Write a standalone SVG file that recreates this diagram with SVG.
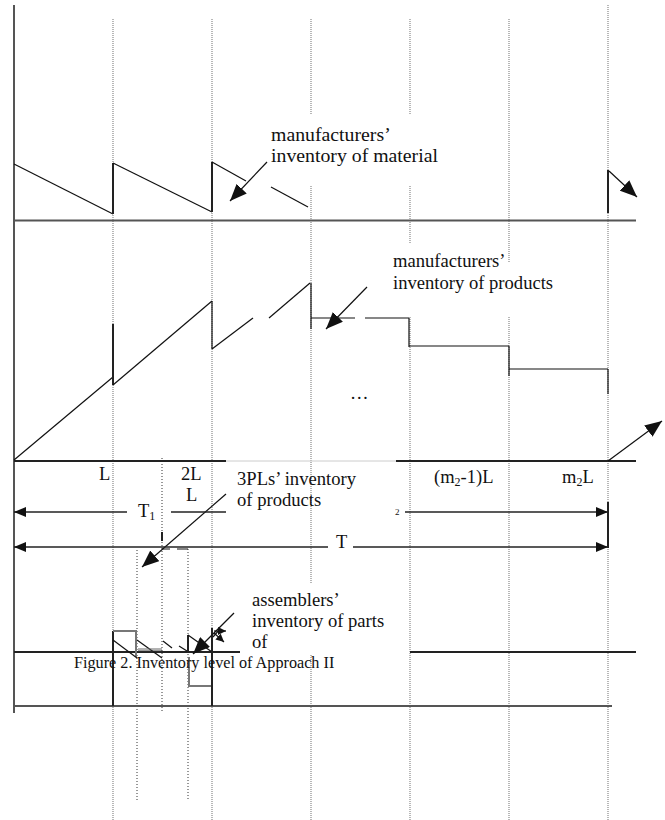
<svg xmlns="http://www.w3.org/2000/svg" width="665" height="820" viewBox="0 0 665 820" font-family="'Liberation Serif', 'Times New Roman', serif">
<style>
text{font-family:"Liberation Serif","Times New Roman",serif;fill:#111}
.lbl{font-family:"Liberation Serif","Times New Roman",serif;font-size:18.6px}
.lbl2{font-family:"Liberation Serif","Times New Roman",serif;font-size:19.8px}
.ax{font-family:"Liberation Serif","Times New Roman",serif;font-size:18.5px}
.cap{font-family:"Liberation Serif","Times New Roman",serif;font-size:16.2px}
.grid{stroke:#9a9a9a;stroke-width:1.4;stroke-dasharray:1 1;fill:none}
.grid2{stroke:#333;stroke-width:1;stroke-dasharray:1 2;fill:none}
.axis{stroke:#555;stroke-width:2;fill:none}
.curve{stroke:#111;stroke-width:1.2;fill:none}
.thick{stroke:#222;stroke-width:2;fill:none}
.grey{stroke:#777;stroke-width:2;fill:none}
.ptr{stroke:#111;stroke-width:1.2;fill:none;marker-end:url(#big)}
.dim{stroke:#222;stroke-width:1.3;fill:none}
</style>
<defs>
<marker id="big" markerUnits="userSpaceOnUse" markerWidth="18" markerHeight="14" refX="17" refY="7" orient="auto"><path d="M0,0 L17,7 L0,14 z" fill="#111"/></marker>
<marker id="sm" markerUnits="userSpaceOnUse" markerWidth="13" markerHeight="10" refX="12" refY="5" orient="auto"><path d="M0,0 L12,5 L0,10 z" fill="#111"/></marker>
<marker id="tiny" markerUnits="userSpaceOnUse" markerWidth="9" markerHeight="8" refX="8" refY="4" orient="auto"><path d="M0,0 L8,4 L0,8 z" fill="#111"/></marker>
</defs>
<rect width="665" height="820" fill="#fff"/>

<g id="grid">
<line class="grid" x1="113" y1="19" x2="113" y2="820"/>
<line class="grid" x1="212" y1="19" x2="212" y2="820"/>
<line class="grid" x1="311" y1="19" x2="311" y2="115"/>
<line class="grid" x1="311" y1="186" x2="311" y2="583"/>
<line class="grid" x1="311" y1="655" x2="311" y2="820"/>
<line class="grid" x1="410" y1="19" x2="410" y2="115"/>
<line class="grid" x1="410" y1="186" x2="410" y2="243"/>
<line class="grid" x1="410" y1="317" x2="410" y2="820"/>
<line class="grid" x1="509" y1="19" x2="509" y2="262"/>
<line class="grid" x1="509" y1="317" x2="509" y2="820"/>
<line class="grid" x1="608" y1="5" x2="608" y2="820"/>
<line class="grid2" x1="137" y1="550" x2="137" y2="800"/>
<line class="grid2" x1="162" y1="458" x2="162" y2="712"/>
<line class="grid2" x1="188" y1="549" x2="188" y2="800"/>
</g>

<g id="axes">
<line class="axis" x1="14" y1="5" x2="14" y2="713"/>
<line class="axis" x1="14" y1="220.5" x2="636" y2="220.5"/>
<line class="thick" x1="14" y1="461" x2="226" y2="461"/>
<line stroke="#ccc" stroke-width="1" x1="226" y1="461" x2="396" y2="461"/>
<line class="thick" x1="396" y1="461" x2="636" y2="461"/>
<line class="thick" x1="14" y1="652" x2="240" y2="652"/>
<line class="thick" x1="410" y1="652" x2="636" y2="652"/>
<line class="axis" x1="14" y1="706" x2="612" y2="706"/>
</g>

<g id="material-inventory">
<path class="curve" d="M14,164 L113,214"/>
<line class="thick" x1="113" y1="163" x2="113" y2="214"/>
<path class="curve" d="M113,163 L212,212"/>
<line class="thick" x1="212" y1="162" x2="212" y2="212"/>
<path class="curve" d="M212,162 L246,181"/>
<path class="curve" d="M271,187 L308,207"/>
<line class="thick" x1="608" y1="170" x2="608" y2="213"/>
</g>

<g id="material-label">
<text class="lbl2" x="271" y="141">manufacturers’</text>
<text class="lbl2" x="271" y="162">inventory of material</text>
</g>

<g id="product-inventory">
<path class="curve" d="M14,460 L113,377"/>
<line class="thick" x1="113" y1="324" x2="113" y2="385"/>
<path class="curve" d="M113,385 L212,301"/>
<line class="curve" x1="212" y1="301" x2="212" y2="349"/>
<path class="curve" d="M212,349 L253,318"/>
<path class="curve" d="M269,318 L310,283"/>
<line class="curve" x1="311" y1="283" x2="311" y2="329"/>
<path class="curve" d="M311,318 H355 M365,318 H409"/>
<path class="curve" d="M409,318 V347 M409,346 H509"/>
<path class="curve" d="M509,346 V376 M509,369 H608 M608,369 V394"/>
<text class="ax" x="350" y="399">…</text>
</g>

<g id="product-label">
<text class="lbl" x="393" y="267">manufacturers’</text>
<text class="lbl" x="393" y="289">inventory of products</text>
</g>

<g id="axis-labels">
<text class="ax" x="99" y="480">L</text>
<text class="ax" x="181" y="480">2L</text>
<text class="ax" x="186" y="501">L</text>
<text class="ax" x="434" y="483">(m<tspan font-size="12" dy="3">2</tspan><tspan dy="-3">-1)L</tspan></text>
<text class="ax" x="562" y="483">m<tspan font-size="12" dy="3">2</tspan><tspan dy="-3">L</tspan></text>
<text class="ax" x="138" y="517">T<tspan font-size="12" dy="3">1</tspan></text>
<text font-size="9" x="395" y="515">2</text>
<text class="ax" x="336" y="548">T</text>
</g>

<g id="tpl-label">
<text class="lbl" x="237" y="485">3PLs’ inventory</text>
<text class="lbl" x="237" y="506">of products</text>
</g>

<g id="assembler-label">
<text class="lbl" x="252" y="606">assemblers’</text>
<text class="lbl" x="252" y="627">inventory of parts</text>
<text class="lbl" x="252" y="648">of</text>
</g>

<g id="tpl-assembler-inventory">
<line class="thick" x1="162" y1="532" x2="162" y2="541"/>
<path class="curve" d="M162,549 H170 M177,549 H188"/>
<line class="thick" x1="113" y1="631" x2="113" y2="706"/>
<path class="grey" d="M113,631 H136 V657"/>
<path class="curve" d="M113,640 L137,658"/>
<path class="curve" d="M137,640 L162,658"/>
<line stroke="#666" stroke-width="1" x1="138" y1="649" x2="162" y2="649"/>
<line stroke="#333" stroke-width="1" x1="138" y1="651" x2="162" y2="651"/>
<path class="curve" d="M163,641 L172,648"/>
<path class="curve" d="M179,646 L187,651"/>
<line class="thick" x1="188" y1="635" x2="188" y2="653"/>
<path class="grey" d="M189,657 V686 H212"/>
<path class="curve" d="M188,635 L212,652"/>
<line class="thick" x1="212" y1="628" x2="212" y2="706"/>
</g>

<g id="caption">
<text class="cap" x="74" y="668">Figure 2. Inventory level of Approach II</text>
</g>

<g id="connectors">
<line class="ptr" x1="267" y1="162" x2="230" y2="201"/>
<line class="ptr" x1="609" y1="171" x2="637" y2="197"/>
<line class="ptr" x1="367" y1="287" x2="326" y2="329"/>
<line class="ptr" x1="608" y1="461" x2="662" y2="421"/>
<line class="ptr" x1="226" y1="494" x2="142" y2="567"/>
<line class="ptr" x1="234" y1="613" x2="193" y2="654"/>
<line class="dim" x1="127" y1="512" x2="14" y2="512" marker-end="url(#sm)"/>
<line class="dim" x1="171" y1="512" x2="226" y2="512"/>
<line class="dim" x1="405" y1="512" x2="608" y2="512" marker-end="url(#sm)"/>
<line class="dim" x1="328" y1="547" x2="14" y2="547" marker-end="url(#sm)"/>
<line class="dim" x1="353" y1="547" x2="608" y2="547" marker-end="url(#sm)"/>
<line class="thick" x1="608" y1="502" x2="608" y2="548"/>
<line class="curve" x1="213" y1="637" x2="220" y2="629"/>
<line class="curve" x1="214" y1="631" x2="226" y2="631" marker-end="url(#tiny)"/>
<line class="curve" x1="214" y1="633" x2="224" y2="642" marker-end="url(#tiny)"/>
</g>
</svg>
